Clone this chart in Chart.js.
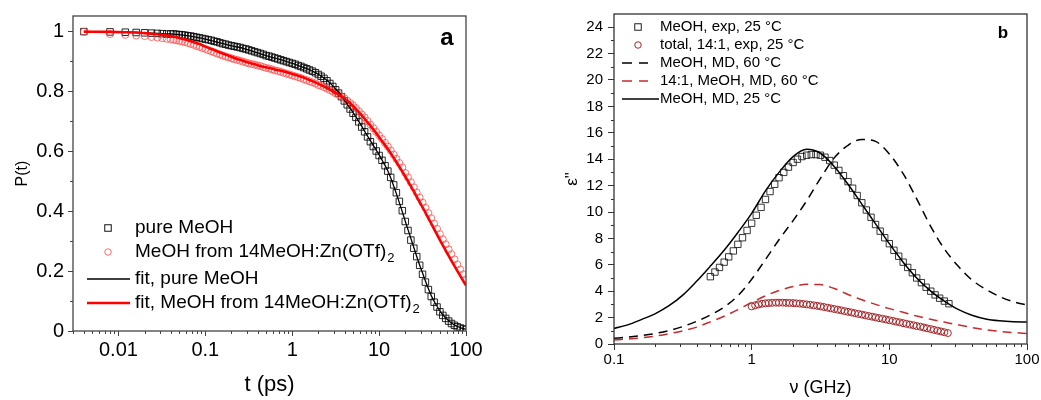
<!DOCTYPE html>
<html>
<head>
<meta charset="utf-8">
<script src="https://cdn.jsdelivr.net/npm/chart.js@4.4.1/dist/chart.umd.min.js"></script>
<style>
  html, body { margin: 0; padding: 0; background: #fff; }
  #wrap { position: relative; width: 1041px; height: 400px; }
  #chartA { position: absolute; left: 0; top: 0; }
  #chartB { position: absolute; left: 520px; top: 0; }
</style>
</head>
<body>
<div id="wrap">
  <canvas id="chartA" width="520" height="400"></canvas>
  <canvas id="chartB" width="521" height="400"></canvas>
</div>
<script>
const FONT = "'Liberation Sans', Arial, sans-serif";

// ---- panel a : P(t) ----
// measured points (dense)
const tExp = [0.004, 0.008, 0.012, 0.016, 0.02, 0.024, 0.028, 0.032, 0.036, 0.04,
    0.0431, 0.0464, 0.0501, 0.0541, 0.0584, 0.0631, 0.0681, 0.0736, 0.0794, 0.0858, 0.0926,
    0.1, 0.108, 0.117, 0.126, 0.136, 0.147, 0.158, 0.171, 0.185, 0.2,
    0.215, 0.232, 0.251, 0.271, 0.293, 0.316, 0.341, 0.369, 0.398, 0.43,
    0.464, 0.501, 0.541, 0.584, 0.631, 0.681, 0.736, 0.794, 0.858, 0.926,
    1, 1.08, 1.17, 1.26, 1.36, 1.47, 1.58, 1.71, 1.85, 2.0,
    2.15, 2.32, 2.51, 2.71, 2.93, 3.16, 3.41, 3.69, 3.98, 4.3,
    4.64, 5.01, 5.41, 5.84, 6.31, 6.81, 7.36, 7.94, 8.58, 9.26,
    10, 10.8, 11.7, 12.6, 13.6, 14.7, 15.8, 17.1, 18.5, 20,
    21.5, 23.2, 25.1, 27.1, 29.3, 31.6, 34.1, 36.9, 39.8, 43,
    46.4, 50.1, 54.1, 58.4, 63.1, 68.1, 73.6, 79.4, 85.8, 92.6, 100];
const pureMeohExp = [0.998, 0.997, 0.996, 0.995, 0.994, 0.993, 0.992, 0.991, 0.990, 0.990,
    0.990, 0.989, 0.988, 0.987, 0.986, 0.984, 0.983, 0.981, 0.979, 0.977, 0.975,
    0.973, 0.971, 0.969, 0.966, 0.964, 0.961, 0.958, 0.956, 0.953, 0.951,
    0.949, 0.947, 0.945, 0.942, 0.940, 0.937, 0.934, 0.931, 0.928, 0.925,
    0.922, 0.918, 0.916, 0.913, 0.910, 0.907, 0.904, 0.901, 0.898, 0.895,
    0.892, 0.889, 0.885, 0.882, 0.878, 0.874, 0.870, 0.866, 0.861, 0.855,
    0.849, 0.842, 0.834, 0.825, 0.815, 0.804, 0.793, 0.781, 0.767, 0.754,
    0.740, 0.726, 0.712, 0.697, 0.680, 0.664, 0.647, 0.631, 0.615, 0.600,
    0.585, 0.569, 0.551, 0.533, 0.512, 0.487, 0.461, 0.432, 0.401, 0.365,
    0.335, 0.303, 0.276, 0.248, 0.219, 0.189, 0.163, 0.138, 0.115, 0.096,
    0.080, 0.064, 0.052, 0.042, 0.033, 0.025, 0.019, 0.014, 0.010, 0.007, 0.005];
const mixMeohExp = [0.997, 0.990, 0.987, 0.985, 0.983, 0.980, 0.978, 0.976, 0.974, 0.972,
    0.971, 0.969, 0.967, 0.965, 0.963, 0.960, 0.957, 0.954, 0.950, 0.947, 0.943,
    0.940, 0.936, 0.932, 0.929, 0.925, 0.922, 0.918, 0.915, 0.912, 0.909,
    0.906, 0.904, 0.901, 0.898, 0.895, 0.892, 0.890, 0.888, 0.885, 0.883,
    0.880, 0.877, 0.875, 0.872, 0.869, 0.867, 0.864, 0.861, 0.858, 0.855,
    0.852, 0.849, 0.846, 0.843, 0.839, 0.836, 0.832, 0.829, 0.825, 0.820,
    0.817, 0.813, 0.808, 0.803, 0.798, 0.792, 0.787, 0.782, 0.776, 0.768,
    0.760, 0.752, 0.743, 0.733, 0.722, 0.712, 0.700, 0.688, 0.676, 0.664,
    0.652, 0.640, 0.627, 0.615, 0.602, 0.588, 0.574, 0.560, 0.545, 0.527,
    0.512, 0.496, 0.479, 0.462, 0.445, 0.428, 0.411, 0.393, 0.376, 0.358,
    0.341, 0.323, 0.306, 0.289, 0.272, 0.256, 0.239, 0.222, 0.205, 0.189, 0.173];
// fits
const tFit = [0.004, 0.008, 0.012, 0.016, 0.02, 0.024, 0.028, 0.032, 0.036, 0.04,
    0.045, 0.05, 0.056, 0.063, 0.07, 0.08, 0.09, 0.1, 0.11, 0.125,
    0.14, 0.16, 0.18, 0.2, 0.22, 0.25, 0.28, 0.32, 0.36, 0.4,
    0.45, 0.5, 0.56, 0.63, 0.7, 0.8, 0.9, 1.0, 1.1, 1.25,
    1.4, 1.6, 1.8, 2.0, 2.2, 2.5, 2.8, 3.2, 3.6, 4.0,
    4.5, 5, 5.6, 6.3, 7, 8, 9, 10, 11, 12.5,
    14, 16, 18, 20, 22, 25, 28, 32, 36, 40,
    45, 50, 56, 63, 70, 80, 90, 100];
const pureMeohFit = [0.998, 0.997, 0.996, 0.995, 0.994, 0.993, 0.992, 0.991, 0.990, 0.990,
    0.989, 0.988, 0.986, 0.984, 0.982, 0.979, 0.976, 0.973, 0.970, 0.966,
    0.962, 0.958, 0.954, 0.951, 0.948, 0.945, 0.941, 0.936, 0.931, 0.927,
    0.922, 0.918, 0.914, 0.910, 0.906, 0.901, 0.896, 0.892, 0.888, 0.882,
    0.877, 0.870, 0.863, 0.856, 0.848, 0.836, 0.823, 0.805, 0.788, 0.769,
    0.748, 0.729, 0.707, 0.683, 0.660, 0.633, 0.609, 0.587, 0.566, 0.536,
    0.501, 0.453, 0.408, 0.366, 0.329, 0.280, 0.236, 0.189, 0.149, 0.117,
    0.089, 0.067, 0.049, 0.035, 0.024, 0.015, 0.009, 0.006];
const mixMeohFit = [0.998, 0.997, 0.996, 0.995, 0.993, 0.991, 0.989, 0.987, 0.985, 0.983,
    0.980, 0.977, 0.973, 0.969, 0.965, 0.959, 0.954, 0.948, 0.943, 0.937,
    0.931, 0.925, 0.919, 0.914, 0.909, 0.904, 0.899, 0.894, 0.890, 0.886,
    0.882, 0.879, 0.876, 0.872, 0.869, 0.865, 0.861, 0.857, 0.853, 0.848,
    0.843, 0.836, 0.830, 0.824, 0.818, 0.810, 0.802, 0.793, 0.784, 0.775,
    0.762, 0.750, 0.735, 0.719, 0.703, 0.683, 0.664, 0.646, 0.630, 0.608,
    0.587, 0.561, 0.537, 0.515, 0.494, 0.466, 0.440, 0.410, 0.382, 0.357,
    0.329, 0.304, 0.278, 0.251, 0.228, 0.199, 0.174, 0.152];
const xTicksA = [0.01, 0.1, 1, 10, 100];
const yTicksA = [0, 0.2, 0.4, 0.6, 0.8, 1];
const yMinorA = [0.1, 0.3, 0.5, 0.7, 0.9];

// ---- panel b : eps'' ----
const nuMd = [0.1, 0.126, 0.158, 0.2, 0.251, 0.316, 0.398, 0.501, 0.631, 0.794,
    1, 1.26, 1.58, 2, 2.51, 3.16, 3.98, 5.01, 6.31, 7.94,
    10, 12.6, 15.8, 20, 25.1, 31.6, 39.8, 50.1, 63.1, 79.4, 100];
const meohMd25 = [1.18, 1.45, 1.85, 2.3, 2.9, 3.7, 4.75, 5.9, 7.1, 8.45,
    9.9, 11.6, 13.0, 14.2, 14.75, 14.45, 13.45, 12.1, 10.6, 9.1,
    7.6, 6.2, 5.0, 4.0, 3.25, 2.62, 2.18, 1.9, 1.76, 1.69, 1.67];
const meohMd60 = [0.43, 0.52, 0.64, 0.8, 1.02, 1.32, 1.72, 2.2, 2.8, 3.65,
    4.9, 6.4, 7.9, 9.35, 10.85, 12.55, 14.1, 15.05, 15.5, 15.35,
    14.4, 12.9, 11.0, 8.9, 7.2, 5.9, 4.85, 4.15, 3.6, 3.2, 2.95];
const mixMd60 = [0.3, 0.38, 0.47, 0.6, 0.78, 1.0, 1.28, 1.68, 2.1, 2.6,
    3.15, 3.65, 4.05, 4.35, 4.52, 4.5, 4.2, 3.75, 3.35, 3.0,
    2.68, 2.4, 2.12, 1.87, 1.66, 1.45, 1.25, 1.08, 0.96, 0.87, 0.8];
const nuMeohExp = [0.501, 0.541, 0.584, 0.631, 0.681, 0.736, 0.794, 0.858, 0.926, 1.0,
    1.08, 1.17, 1.26, 1.36, 1.47, 1.58, 1.71, 1.85, 2.0, 2.15,
    2.32, 2.51, 2.71, 2.93, 3.16, 3.41, 3.69, 3.98, 4.3, 4.64,
    5.01, 5.41, 5.84, 6.31, 6.81, 7.36, 7.94, 8.58, 9.26, 10,
    10.8, 11.7, 12.6, 13.6, 14.7, 15.8, 17.1, 18.5, 20, 21.5,
    23.2, 25.1, 27.1];
const meohExp25 = [5.1, 5.45, 5.8, 6.2, 6.6, 7.05, 7.55, 8.05, 8.6, 9.15,
    9.75, 10.35, 10.95, 11.55, 12.1, 12.6, 13.0, 13.4, 13.75, 14.0,
    14.2, 14.3, 14.35, 14.35, 14.3, 14.15, 13.9, 13.55, 13.15, 12.75,
    12.3, 11.8, 11.25, 10.7, 10.15, 9.6, 9.05, 8.55, 8.05, 7.6,
    7.1, 6.65, 6.2, 5.8, 5.4, 5.0, 4.65, 4.3, 4.0, 3.72,
    3.47, 3.25, 3.05];
const nuMixExp = [1.0, 1.06, 1.12, 1.19, 1.26, 1.33, 1.41, 1.5, 1.58, 1.68,
    1.78, 1.88, 2.0, 2.11, 2.24, 2.37, 2.51, 2.66, 2.82, 2.99,
    3.16, 3.35, 3.55, 3.76, 3.98, 4.22, 4.47, 4.73, 5.01, 5.31,
    5.62, 5.96, 6.31, 6.68, 7.08, 7.5, 7.94, 8.41, 8.91, 9.44,
    10, 10.6, 11.2, 11.9, 12.6, 13.3, 14.1, 15, 15.8, 16.8,
    17.8, 18.8, 20, 21.1, 22.4, 23.7, 25.1, 26.6];
const mixExp25 = [2.85, 2.93, 3.0, 3.05, 3.08, 3.1, 3.12, 3.13, 3.13, 3.13,
    3.12, 3.11, 3.1, 3.08, 3.06, 3.03, 3.0, 2.97, 2.93, 2.89,
    2.85, 2.8, 2.75, 2.7, 2.65, 2.6, 2.55, 2.49, 2.44, 2.39,
    2.33, 2.28, 2.23, 2.17, 2.12, 2.07, 2.02, 1.96, 1.91, 1.86,
    1.8, 1.75, 1.69, 1.64, 1.58, 1.53, 1.47, 1.42, 1.36, 1.31,
    1.25, 1.19, 1.13, 1.07, 1.01, 0.95, 0.89, 0.83];
const xTicksB = [0.1, 1, 10, 100];
const yTicksB = [0, 2, 4, 6, 8, 10, 12, 14, 16, 18, 20, 22, 24];
const yMinorB = [1, 3, 5, 7, 9, 11, 13, 15, 17, 19, 21, 23];

/**
 * x/y 数组 -> 点
 */
function pts(xs, ys) {
    return xs.map((x, i) => ({ x: x, y: ys[i] }));
}

/**
 * 对数轴的次刻度 2..9
 */
function logMinors(min, max) {
    const out = [];
    for (let e = Math.floor(Math.log10(min)); e < Math.ceil(Math.log10(max)); e++) {
        for (let m = 2; m <= 9; m++) {
            const v = m * Math.pow(10, e);
            if (v >= min * 0.999 && v <= max) out.push(v);
        }
    }
    return out;
}

function fixedTicks(list) {
    return scale => { scale.ticks = list.map(v => ({ value: v })); };
}

// 边框 + 次刻度
const axesFrame = {
    id: 'axesFrame',
    afterDraw(chart, args, opts) {
        const { ctx, chartArea: a, scales } = chart;
        ctx.save();
        ctx.strokeStyle = opts.color;
        ctx.lineWidth = opts.lineWidth;
        ctx.strokeRect(a.left, a.top, a.right - a.left, a.bottom - a.top);
        ctx.lineWidth = 1;
        ctx.beginPath();
        opts.minorX.forEach(v => {
            const px = Math.round(scales.x.getPixelForValue(v)) + 0.5;
            ctx.moveTo(px, a.bottom);
            ctx.lineTo(px, a.bottom + opts.minorLen);
        });
        opts.minorY.forEach(v => {
            const py = Math.round(scales.y.getPixelForValue(v)) + 0.5;
            ctx.moveTo(a.left, py);
            ctx.lineTo(a.left - opts.minorLen, py);
        });
        ctx.stroke();
        ctx.restore();
    }
};

// 图内图例 + 面板字母
const insetLegend = {
    id: 'insetLegend',
    afterDraw(chart, args, opts) {
        const ctx = chart.ctx;
        ctx.save();
        opts.items.forEach((it, i) => {
            const y = opts.rows[i];
            ctx.strokeStyle = it.color;
            if (it.kind === 'square') {
                const s = opts.markSize;
                ctx.lineWidth = 1;
                ctx.strokeRect(opts.markX - s / 2, y - s / 2, s, s);
            } else if (it.kind === 'circle') {
                ctx.lineWidth = 1;
                ctx.beginPath();
                ctx.arc(opts.markX, y, opts.markSize / 2, 0, Math.PI * 2);
                ctx.stroke();
            } else {
                ctx.lineWidth = it.width;
                ctx.setLineDash(it.dash || []);
                ctx.beginPath();
                ctx.moveTo(opts.lineFrom, y);
                ctx.lineTo(it.lineTo || opts.lineTo, y);
                ctx.stroke();
                ctx.setLineDash([]);
            }
            ctx.fillStyle = '#000';
            ctx.textBaseline = 'middle';
            ctx.textAlign = 'left';
            ctx.font = `${opts.size}px ${FONT}`;
            ctx.fillText(it.text, opts.textX, y);
            if (it.sub) {
                const w = ctx.measureText(it.text).width;
                ctx.font = `${opts.subSize}px ${FONT}`;
                ctx.fillText(it.sub, opts.textX + w + 1, y + opts.subShift);
            }
        });
        const tag = opts.tag;
        ctx.font = `bold ${tag.size}px ${FONT}`;
        ctx.textAlign = 'center';
        ctx.textBaseline = 'alphabetic';
        ctx.fillText(tag.text, tag.x, tag.y);
        ctx.restore();
    }
};

function axisOpts(o) {
    return {
        type: o.type,
        position: o.position,
        min: o.min,
        max: o.max,
        afterBuildTicks: fixedTicks(o.ticks),
        afterFit: o.fit,
        grid: { display: true, drawOnChartArea: false, drawTicks: true, tickLength: o.tickLength, tickColor: o.frame, tickWidth: 1 },
        border: { display: false },
        ticks: { color: '#000', font: { family: FONT, size: o.tickSize }, padding: o.pad, autoSkip: false, maxRotation: 0, callback: v => String(v) },
        title: { display: true, text: o.title, color: '#000', font: { family: FONT, size: o.titleSize }, padding: o.titlePad }
    };
}

function renderPanelA() {
    const ctx = document.getElementById('chartA').getContext('2d');
    new Chart(ctx, {
        type: 'scatter',
        data: {
            datasets: [
                { data: pts(tFit, mixMeohFit), showLine: true, borderColor: '#ff0000', borderWidth: 2.6, pointRadius: 0, cubicInterpolationMode: 'monotone' },
                { data: pts(tFit, pureMeohFit), showLine: true, borderColor: '#000', borderWidth: 1.3, pointRadius: 0, cubicInterpolationMode: 'monotone' },
                { data: pts(tExp, mixMeohExp), pointStyle: 'circle', pointRadius: 3.5, borderWidth: 1, borderColor: 'rgba(255,70,70,0.75)', backgroundColor: 'rgba(0,0,0,0)' },
                { data: pts(tExp, pureMeohExp), pointStyle: 'rect', pointRadius: 4.6, borderWidth: 1, borderColor: 'rgba(0,0,0,0.85)', backgroundColor: 'rgba(0,0,0,0)' }
            ]
        },
        options: {
            responsive: false,
            animation: false,
            events: [],
            layout: { padding: { top: 14, right: 54, left: 0, bottom: 0 } },
            scales: {
                x: axisOpts({ type: 'logarithmic', position: 'bottom', min: 0.003, max: 100, ticks: xTicksA,
                    fit: s => { s.height = 69; }, tickLength: 5, frame: '#444', tickSize: 20, pad: 2,
                    title: 't (ps)', titleSize: 22, titlePad: { top: 0, bottom: 2 } }),
                y: axisOpts({ type: 'linear', position: 'left', min: 0, max: 1.05, ticks: yTicksA,
                    fit: s => { s.width = 73; }, tickLength: 5, frame: '#444', tickSize: 20, pad: 4,
                    title: 'P(t)', titleSize: 16, titlePad: { top: 13, bottom: 0 } })
            },
            plugins: {
                legend: { display: false },
                tooltip: { enabled: false },
                axesFrame: { color: '#444', lineWidth: 1.3, minorLen: 3, minorX: logMinors(0.003, 100), minorY: yMinorA },
                insetLegend: {
                    rows: [228, 252, 279, 303],
                    markX: 108, markSize: 6.5, lineFrom: 87, lineTo: 130, textX: 135,
                    size: 19, subSize: 13, subShift: 6,
                    items: [
                        { kind: 'square', color: '#111', text: 'pure MeOH' },
                        { kind: 'circle', color: 'rgba(255,70,70,0.8)', text: 'MeOH from 14MeOH:Zn(OTf)', sub: '2' },
                        { kind: 'line', color: '#000', width: 1.3, text: 'fit, pure MeOH' },
                        { kind: 'line', color: '#ff0000', width: 2.6, text: 'fit, MeOH from 14MeOH:Zn(OTf)', sub: '2' }
                    ],
                    tag: { text: 'a', x: 447, y: 45, size: 24 }
                }
            }
        },
        plugins: [axesFrame, insetLegend]
    });
}

function renderPanelB() {
    const ctx = document.getElementById('chartB').getContext('2d');
    const darkRed = '#a3282b';
    new Chart(ctx, {
        type: 'scatter',
        data: {
            datasets: [
                { data: pts(nuMd, meohMd25), showLine: true, borderColor: '#000', borderWidth: 1.5, pointRadius: 0, cubicInterpolationMode: 'monotone' },
                { data: pts(nuMd, meohMd60), showLine: true, borderColor: '#000', borderWidth: 1.5, borderDash: [9, 6], pointRadius: 0, cubicInterpolationMode: 'monotone' },
                { data: pts(nuMd, mixMd60), showLine: true, borderColor: '#c62a2d', borderWidth: 1.5, borderDash: [9, 6], pointRadius: 0, cubicInterpolationMode: 'monotone' },
                { data: pts(nuMeohExp, meohExp25), pointStyle: 'rect', pointRadius: 4.5, borderWidth: 1, borderColor: 'rgba(20,20,20,0.85)', backgroundColor: 'rgba(0,0,0,0)' },
                { data: pts(nuMixExp, mixExp25), pointStyle: 'circle', pointRadius: 3.5, borderWidth: 1, borderColor: darkRed, backgroundColor: 'rgba(0,0,0,0)' }
            ]
        },
        options: {
            responsive: false,
            animation: false,
            events: [],
            layout: { padding: { top: 10, right: 14, left: 0, bottom: 0 } },
            scales: {
                x: axisOpts({ type: 'logarithmic', position: 'bottom', min: 0.1, max: 100, ticks: xTicksB,
                    fit: s => { s.height = 56; }, tickLength: 6, frame: '#333', tickSize: 15, pad: 1,
                    title: 'ν (GHz)', titleSize: 18, titlePad: { top: 0, bottom: 1 } }),
                y: axisOpts({ type: 'linear', position: 'left', min: 0, max: 25, ticks: yTicksB,
                    fit: s => { s.width = 94; }, tickLength: 6, frame: '#333', tickSize: 15, pad: 5,
                    title: 'ε"', titleSize: 17, titlePad: { top: 42, bottom: 0 } })
            },
            plugins: {
                legend: { display: false },
                tooltip: { enabled: false },
                axesFrame: { color: '#333', lineWidth: 1.3, minorLen: 3, minorX: logMinors(0.1, 100), minorY: yMinorB },
                insetLegend: {
                    rows: [27, 45, 63, 81, 99],
                    markX: 118, markSize: 6.5, lineFrom: 102, lineTo: 128, textX: 140,
                    size: 15, subSize: 11, subShift: 5,
                    items: [
                        { kind: 'square', color: '#222', text: 'MeOH, exp, 25 °C' },
                        { kind: 'circle', color: darkRed, text: 'total, 14:1, exp, 25 °C' },
                        { kind: 'line', color: '#000', width: 1.5, dash: [10, 7], text: 'MeOH, MD, 60 °C' },
                        { kind: 'line', color: '#c62a2d', width: 1.5, dash: [10, 7], text: '14:1, MeOH, MD, 60 °C' },
                        { kind: 'line', color: '#000', width: 1.5, lineTo: 139, text: 'MeOH, MD, 25 °C' }
                    ],
                    tag: { text: 'b', x: 483, y: 38, size: 17 }
                }
            }
        },
        plugins: [axesFrame, insetLegend]
    });
}

renderPanelA();
renderPanelB();
</script>
</body>
</html>
